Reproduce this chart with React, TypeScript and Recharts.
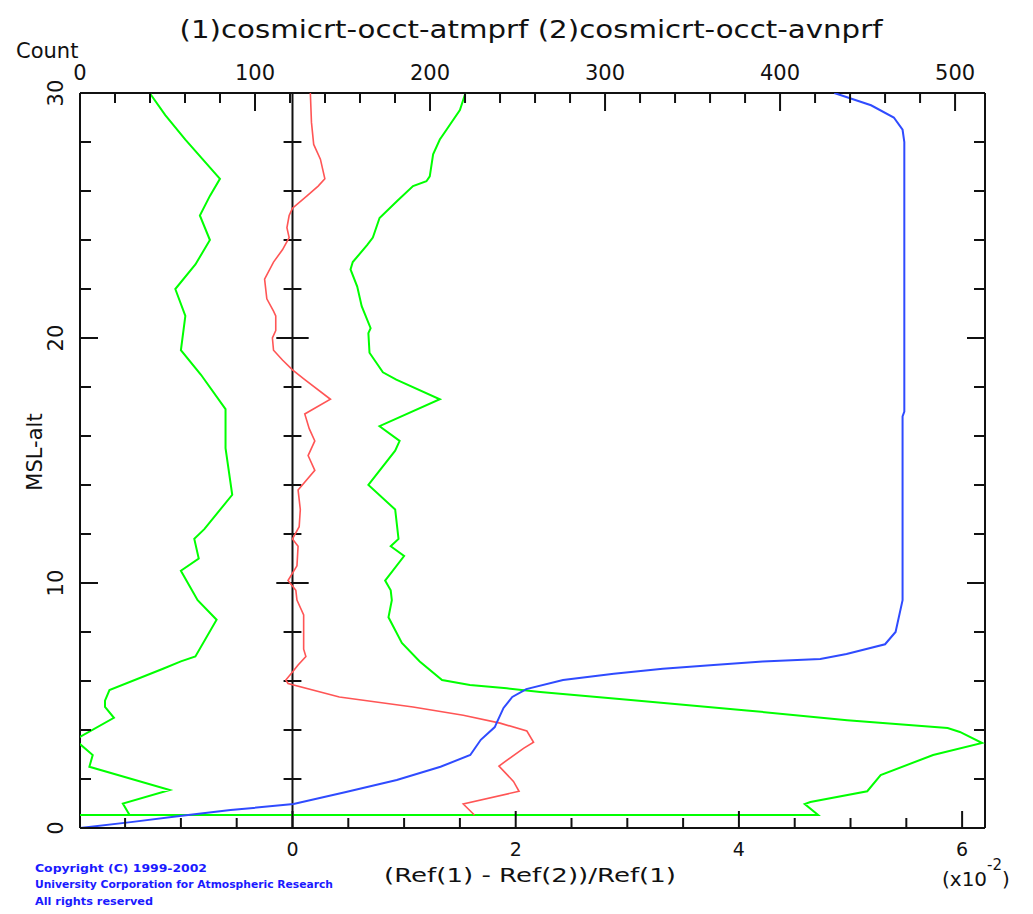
import React from 'react';
import { ScatterChart, Scatter, XAxis, YAxis, ReferenceLine } from 'recharts';

// altitude (km) vs mean relative refractivity difference (x10^-2)
const redProfile = [
  { y: 30, x: 0.16 }, { y: 28.8, x: 0.17 }, { y: 27.9, x: 0.19 }, { y: 27.3, x: 0.25 },
  { y: 26.5, x: 0.29 }, { y: 26.2, x: 0.23 }, { y: 25.8, x: 0.13 }, { y: 25.3, x: 0.0 },
  { y: 25.0, x: -0.03 }, { y: 24.5, x: -0.05 }, { y: 24.1, x: -0.03 }, { y: 23.6, x: -0.09 },
  { y: 23.1, x: -0.17 }, { y: 22.4, x: -0.25 }, { y: 21.6, x: -0.23 }, { y: 21.1, x: -0.17 },
  { y: 20.9, x: -0.15 }, { y: 20.3, x: -0.15 }, { y: 20.0, x: -0.18 }, { y: 19.5, x: -0.17 },
  { y: 19.1, x: -0.09 }, { y: 18.7, x: 0.0 }, { y: 18.3, x: 0.11 }, { y: 17.5, x: 0.34 },
  { y: 16.9, x: 0.11 }, { y: 16.3, x: 0.15 }, { y: 15.8, x: 0.2 }, { y: 15.2, x: 0.14 },
  { y: 14.6, x: 0.2 }, { y: 13.8, x: 0.05 }, { y: 13.0, x: 0.07 }, { y: 12.3, x: 0.06 },
  { y: 11.8, x: 0.0 }, { y: 11.5, x: 0.05 }, { y: 10.7, x: 0.04 }, { y: 10.1, x: -0.04 },
  { y: 9.7, x: 0.03 }, { y: 9.3, x: 0.04 }, { y: 8.7, x: 0.1 }, { y: 8.2, x: 0.1 },
  { y: 7.3, x: 0.1 }, { y: 7.0, x: 0.12 }, { y: 6.65, x: 0.05 }, { y: 6.37, x: 0.0 },
  { y: 6.04, x: -0.06 }, { y: 5.9, x: -0.04 }, { y: 5.35, x: 0.42 }, { y: 4.94, x: 1.08 },
  { y: 4.6, x: 1.53 }, { y: 4.28, x: 1.86 }, { y: 3.96, x: 2.1 }, { y: 3.5, x: 2.16 },
  { y: 3.25, x: 2.07 }, { y: 2.53, x: 1.85 }, { y: 1.9, x: 1.98 }, { y: 1.5, x: 2.03 },
  { y: 0.98, x: 1.53 }, { y: 0.53, x: 1.63 },
];

// mean + std
const greenUpper = [
  { y: 30, x: 1.55 }, { y: 29.3, x: 1.5 }, { y: 28.5, x: 1.38 }, { y: 28.1, x: 1.32 },
  { y: 27.5, x: 1.26 }, { y: 26.6, x: 1.23 }, { y: 26.4, x: 1.2 }, { y: 26.2, x: 1.08 },
  { y: 25.6, x: 0.94 }, { y: 24.9, x: 0.78 }, { y: 24.1, x: 0.72 }, { y: 23.8, x: 0.67 },
  { y: 23.1, x: 0.54 }, { y: 22.8, x: 0.52 }, { y: 22.1, x: 0.58 }, { y: 21.3, x: 0.62 },
  { y: 20.4, x: 0.7 }, { y: 20.2, x: 0.68 }, { y: 19.4, x: 0.69 }, { y: 18.6, x: 0.81 },
  { y: 18.3, x: 0.93 }, { y: 17.5, x: 1.32 }, { y: 16.4, x: 0.78 }, { y: 15.8, x: 0.96 },
  { y: 15.4, x: 0.92 }, { y: 14.0, x: 0.68 }, { y: 13.0, x: 0.92 }, { y: 11.8, x: 0.95 },
  { y: 11.5, x: 0.88 }, { y: 11.1, x: 1.0 }, { y: 10.1, x: 0.83 }, { y: 9.7, x: 0.88 },
  { y: 9.3, x: 0.89 }, { y: 8.6, x: 0.86 }, { y: 7.55, x: 0.98 }, { y: 6.8, x: 1.14 },
  { y: 6.04, x: 1.34 }, { y: 5.84, x: 1.59 }, { y: 5.7, x: 1.92 }, { y: 5.55, x: 2.22 },
  { y: 5.22, x: 3.03 }, { y: 4.8, x: 4.07 }, { y: 4.4, x: 4.97 }, { y: 4.08, x: 5.87 },
  { y: 3.92, x: 5.98 }, { y: 3.47, x: 6.18 }, { y: 2.98, x: 5.74 }, { y: 2.16, x: 5.27 },
  { y: 1.5, x: 5.15 }, { y: 1.06, x: 4.64 }, { y: 0.98, x: 4.59 }, { y: 0.53, x: 4.71 },
  { y: 0.53, x: -1.95 },
];

// mean - std
const greenLower = [
  { y: 30, x: -1.28 }, { y: 29.1, x: -1.14 }, { y: 28.1, x: -0.96 }, { y: 26.5, x: -0.65 },
  { y: 25.8, x: -0.74 }, { y: 25, x: -0.83 }, { y: 24, x: -0.74 }, { y: 23, x: -0.87 },
  { y: 22, x: -1.05 }, { y: 20.9, x: -0.96 }, { y: 19.5, x: -1.0 }, { y: 18.5, x: -0.82 },
  { y: 17.1, x: -0.6 }, { y: 15.5, x: -0.6 }, { y: 13.6, x: -0.54 }, { y: 12.2, x: -0.79 },
  { y: 11.8, x: -0.88 }, { y: 11.0, x: -0.84 }, { y: 10.5, x: -1.0 }, { y: 9.3, x: -0.85 },
  { y: 8.5, x: -0.68 }, { y: 7.0, x: -0.87 }, { y: 6.8, x: -1.0 }, { y: 6.5, x: -1.16 },
  { y: 5.63, x: -1.64 }, { y: 5.2, x: -1.68 }, { y: 4.94, x: -1.68 }, { y: 4.5, x: -1.6 },
  { y: 3.6, x: -1.95 }, { y: 2.98, x: -1.79 }, { y: 2.5, x: -1.82 }, { y: 1.55, x: -1.1 },
  { y: 1.0, x: -1.52 }, { y: 0.53, x: -1.46 },
];

// number of occultations per level (top axis)
const countProfile = [
  { y: 30, x: 431 }, { y: 29.5, x: 452 }, { y: 29, x: 465 }, { y: 28.5, x: 470 },
  { y: 28, x: 471 }, { y: 17, x: 471 }, { y: 16.8, x: 470 }, { y: 9.3, x: 470 },
  { y: 8, x: 466 }, { y: 7.5, x: 460 }, { y: 7.1, x: 438 }, { y: 6.9, x: 423 },
  { y: 6.8, x: 390 }, { y: 6.65, x: 362 }, { y: 6.5, x: 333 }, { y: 6.3, x: 305 },
  { y: 6.04, x: 276 }, { y: 5.67, x: 255 }, { y: 5.35, x: 247 }, { y: 4.9, x: 242 },
  { y: 4.28, x: 238 }, { y: 4.12, x: 237 }, { y: 3.6, x: 229 }, { y: 2.98, x: 223 },
  { y: 2.5, x: 206 }, { y: 1.96, x: 181 }, { y: 1.47, x: 152 }, { y: 0.98, x: 122 },
  { y: 0.73, x: 86 }, { y: 0.49, x: 57 }, { y: 0.24, x: 29 }, { y: 0, x: 0 },
];

const ratioTicks = [-1.5, -1, -0.5, 0, 0.5, 1, 1.5, 2, 2.5, 3, 3.5, 4, 4.5, 5, 5.5, 6];
const ratioLabels = [0, 2, 4, 6];
const countTicks = [0, 20, 40, 60, 80, 100, 120, 140, 160, 180, 200, 220, 240, 260, 280, 300, 320, 340, 360, 380, 400, 420, 440, 460, 480, 500];
const countLabels = [0, 100, 200, 300, 400, 500];
const altTicks = [0, 2, 4, 6, 8, 10, 12, 14, 16, 18, 20, 22, 24, 26, 28, 30];
const altLabels = [0, 10, 20, 30];
const zeroLineTicks = [2, 4, 6, 8, 10, 12, 14, 16, 18, 20, 22, 24, 26, 28];

const FONT = '"DejaVu Sans", sans-serif';
const AXIS = '#111';

const BottomTick = (props: any) => {
  const { x, y, payload } = props;
  const major = ratioLabels.includes(payload.value);
  return (
    <g>
      <line x1={x} x2={x} y1={y} y2={y - (major ? 17 : 10)} stroke={AXIS} strokeWidth={2} />
      {major && (
        <text x={x} y={y + 28} textAnchor="middle" fontSize={19} fontFamily={FONT} fill="#111">
          {payload.value}
        </text>
      )}
    </g>
  );
};

const TopTick = (props: any) => {
  const { x, y, payload } = props;
  const major = countLabels.includes(payload.value);
  return (
    <g>
      <line x1={x} x2={x} y1={y} y2={y + (major ? 18 : 10)} stroke={AXIS} strokeWidth={2} />
      {major && (
        <text x={x} y={y - 13} textAnchor="middle" fontSize={21} fontFamily={FONT} fill="#111">
          {payload.value}
        </text>
      )}
    </g>
  );
};

const LeftTick = (props: any) => {
  const { x, y, payload } = props;
  const major = altLabels.includes(payload.value);
  return (
    <g>
      <line x1={x} x2={x + (major ? 18 : 11)} y1={y} y2={y} stroke={AXIS} strokeWidth={2} />
      {major && (
        <text
          x={x - 17}
          y={y}
          transform={`rotate(-90, ${x - 17}, ${y})`}
          textAnchor="middle"
          fontSize={21}
          fontFamily={FONT}
          fill="#111"
        >
          {payload.value}
        </text>
      )}
    </g>
  );
};

const RightTick = (props: any) => {
  const { x, y, payload } = props;
  const major = altLabels.includes(payload.value);
  return <line x1={x} x2={x - (major ? 18 : 11)} y1={y} y2={y} stroke={AXIS} strokeWidth={2} />;
};

const noDot = () => <g />;

export default function App() {
  return (
    <div style={{ position: 'absolute', left: 0, top: 0, width: 1033, height: 914, background: '#fff' }}>
      <ScatterChart width={1033} height={914} margin={{ top: 63, right: 38, bottom: 56, left: 20 }}>
        <XAxis
          xAxisId="ratio"
          orientation="bottom"
          type="number"
          dataKey="x"
          domain={[-1.904, 6.205]}
          allowDataOverflow
          ticks={ratioTicks}
          interval={0}
          tickLine={false}
          tickSize={0}
          tickMargin={0}
          height={30}
          axisLine={{ stroke: AXIS, strokeWidth: 2 }}
          tick={<BottomTick />}
        />
        <XAxis
          xAxisId="count"
          orientation="top"
          type="number"
          dataKey="x"
          domain={[0, 517.1]}
          allowDataOverflow
          ticks={countTicks}
          interval={0}
          tickLine={false}
          tickSize={0}
          tickMargin={0}
          height={30}
          axisLine={{ stroke: AXIS, strokeWidth: 2 }}
          tick={<TopTick />}
        />
        <YAxis
          yAxisId="alt"
          orientation="left"
          type="number"
          dataKey="y"
          domain={[0, 30]}
          allowDataOverflow
          ticks={altTicks}
          interval={0}
          tickLine={false}
          tickSize={0}
          tickMargin={0}
          width={60}
          axisLine={{ stroke: AXIS, strokeWidth: 2 }}
          tick={<LeftTick />}
        />
        <YAxis
          yAxisId="altRight"
          orientation="right"
          type="number"
          dataKey="y"
          domain={[0, 30]}
          allowDataOverflow
          ticks={altTicks}
          interval={0}
          tickLine={false}
          tickSize={0}
          tickMargin={0}
          width={10}
          axisLine={{ stroke: AXIS, strokeWidth: 2 }}
          tick={<RightTick />}
        />

        <ReferenceLine xAxisId="ratio" yAxisId="alt" x={0} stroke={AXIS} strokeWidth={2} />
        {zeroLineTicks.map((a) => {
          const d = a % 10 === 0 ? 0.145 : 0.08;
          return (
            <ReferenceLine
              key={a}
              xAxisId="ratio"
              yAxisId="alt"
              segment={[{ x: -d, y: a }, { x: d, y: a }]}
              stroke={AXIS}
              strokeWidth={2}
            />
          );
        })}

        <Scatter
          data={greenLower}
          xAxisId="ratio"
          yAxisId="alt"
          line={{ stroke: '#00ff00', strokeWidth: 2 }}
          shape={noDot}
          isAnimationActive={false}
        />
        <Scatter
          data={greenUpper}
          xAxisId="ratio"
          yAxisId="alt"
          line={{ stroke: '#00ff00', strokeWidth: 2 }}
          shape={noDot}
          isAnimationActive={false}
        />
        <Scatter
          data={redProfile}
          xAxisId="ratio"
          yAxisId="alt"
          line={{ stroke: '#ff5555', strokeWidth: 1.6 }}
          shape={noDot}
          isAnimationActive={false}
        />
        <Scatter
          data={countProfile}
          xAxisId="count"
          yAxisId="alt"
          line={{ stroke: '#2f4bff', strokeWidth: 2 }}
          shape={noDot}
          isAnimationActive={false}
        />
      </ScatterChart>

      <svg
        width={1033}
        height={914}
        style={{ position: 'absolute', left: 0, top: 0, pointerEvents: 'none' }}
        fontFamily={FONT}
      >
        <text x={531} y={38} textAnchor="middle" fontSize={25} fill="#111" textLength={703} lengthAdjust="spacingAndGlyphs">
          (1)cosmicrt-occt-atmprf (2)cosmicrt-occt-avnprf
        </text>
        <text x={16} y={58} fontSize={21} fill="#111">Count</text>
        <text x={42} y={452} transform="rotate(-90, 42, 452)" textAnchor="middle" fontSize={21} fill="#111">
          MSL-alt
        </text>
        <text x={530} y={882} textAnchor="middle" fontSize={20} fill="#111" textLength={292} lengthAdjust="spacingAndGlyphs">
          (Ref(1) - Ref(2))/Ref(1)
        </text>
        <text x={942} y={886} fontSize={20} fill="#111">
          (x10<tspan dy={-16} fontSize={15}>-2</tspan><tspan dy={16}>)</tspan>
        </text>
        <g fill="#1a1aff" fontSize={11} fontWeight="bold">
          <text x={35} y={872} textLength={172} lengthAdjust="spacingAndGlyphs">Copyright (C) 1999-2002</text>
          <text x={35} y={888} textLength={298} lengthAdjust="spacingAndGlyphs">University Corporation for Atmospheric Research</text>
          <text x={35} y={905} textLength={118} lengthAdjust="spacingAndGlyphs">All rights reserved</text>
        </g>
      </svg>
    </div>
  );
}
